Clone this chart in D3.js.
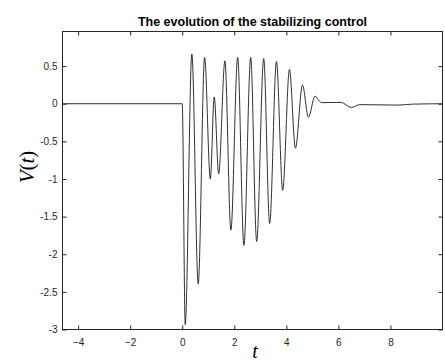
<!DOCTYPE html>
<html>
<head>
<meta charset="utf-8">
<script src="https://cdn.jsdelivr.net/npm/d3@7"></script>
<style>
  body { margin: 0; background: #fff; }
  text { font-family: "Liberation Sans", Arial, sans-serif; }
</style>
</head>
<body>
<svg id="chart" width="445" height="364"></svg>
<script>
// time samples (t) and control values V(t)
var tVals = [-4.6, 0, 0.115, 0.37, 0.615, 0.86, 1.08, 1.23, 1.40, 1.64, 1.87, 2.13, 2.37, 2.63, 2.86, 3.13, 3.36, 3.62, 3.86, 4.12, 4.35, 4.62, 4.85, 5.10, 5.35, 6.1, 6.5, 6.82, 8.3, 8.86, 10]
var vVals = [0, 0, -2.935, 0.66, -2.395, 0.615, -1.0, 0.089, -0.93, 0.57, -1.68, 0.615, -1.88, 0.615, -1.83, 0.60, -1.59, 0.56, -1.15, 0.455, -0.59, 0.248, -0.18, 0.10, 0.015, 0.018, -0.05, -0.012, -0.018, -0.005, 0]

var xTicks = [-4, -2, 0, 2, 4, 6, 8]
var yTicks = [0.5, 0, -0.5, -1, -1.5, -2, -2.5, -3]

var axisColor = "#262626"

var svg = d3.select("#chart")

var x = d3.scaleLinear().domain([-4.6, 10]).range([62.5, 442.5])
var y = d3.scaleLinear().domain([-3, 0.96]).range([329.5, 31.5])

var pts = tVals.map(function (t, i) { return [t, vVals[i]] })

// the signal
svg.append("path")
  .datum(pts)
  .attr("fill", "none")
  .attr("stroke", "#1a1a1a")
  .attr("stroke-width", 0.9)
  .attr("d", d3.line()
    .x(function (d) { return x(d[0]) })
    .y(function (d) { return y(d[1]) })
    .curve(d3.curveMonotoneX))

// axes, ticks pointing inward like matlab
var gx = svg.append("g")
  .attr("transform", "translate(0,329.5)")
  .call(d3.axisBottom(x).tickValues(xTicks).tickSize(-4).tickPadding(9.5).tickFormat(d3.format("")))
var gxTop = svg.append("g")
  .attr("transform", "translate(0,31.5)")
  .call(d3.axisTop(x).tickValues(xTicks).tickSize(-4).tickFormat(""))
var gy = svg.append("g")
  .attr("transform", "translate(62.5,0)")
  .call(d3.axisLeft(y).tickValues(yTicks).tickSize(-4).tickPadding(5).tickFormat(function (d) { return String(d) }))
var gyRight = svg.append("g")
  .attr("transform", "translate(442.5,0)")
  .call(d3.axisRight(y).tickValues(yTicks).tickSize(-4).tickFormat(""))

;[gx, gxTop, gy, gyRight].forEach(function (g) {
  g.select(".domain").remove()
  g.selectAll(".tick line").attr("stroke", axisColor)
  g.selectAll(".tick text")
    .attr("fill", axisColor)
    .style("font-size", "10px")
    .style("font-family", "'Liberation Sans', Arial, sans-serif")
})

// frame
svg.append("rect")
  .attr("x", 62.5)
  .attr("y", 31.5)
  .attr("width", 380)
  .attr("height", 298)
  .attr("fill", "none")
  .attr("stroke", axisColor)
  .attr("stroke-width", 1)

// title
svg.append("text")
  .attr("x", 252.5)
  .attr("y", 26)
  .attr("text-anchor", "middle")
  .style("font-size", "12.5px")
  .style("font-weight", "bold")
  .attr("fill", "#000")
  .text("The evolution of the stabilizing control")

// axis labels in latex-ish serif
var xl = svg.append("text")
  .attr("x", 255)
  .attr("y", 358)
  .attr("text-anchor", "middle")
  .style("font-family", "'Liberation Serif', 'DejaVu Serif', serif")
  .style("font-size", "20px")
  .style("font-style", "italic")
  .attr("fill", "#000")
  .text("t")

var yl = svg.append("text")
  .attr("transform", "translate(34,167) rotate(-90)")
  .attr("text-anchor", "middle")
  .style("font-family", "'Liberation Serif', 'DejaVu Serif', serif")
  .style("font-size", "21px")
  .attr("fill", "#000")
yl.append("tspan").style("font-style", "italic").text("V")
yl.append("tspan").text("(")
yl.append("tspan").style("font-style", "italic").text("t")
yl.append("tspan").text(")")
</script>
</body>
</html>
